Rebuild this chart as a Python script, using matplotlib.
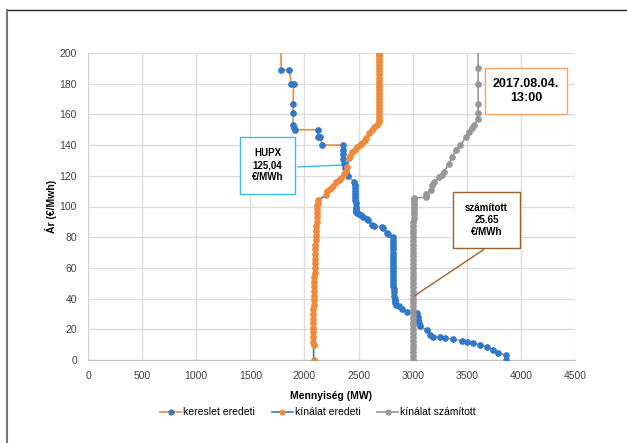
import matplotlib
matplotlib.use("Agg")
import matplotlib.pyplot as plt
from matplotlib.patches import Rectangle
from matplotlib.lines import Line2D

plt.rcParams["font.family"] = ["Liberation Sans", "DejaVu Sans"]

# kereslet eredeti (demand) - MW, EUR/MWh
kereslet_mw = [1784, 1784, 1858, 1880, 1900, 1895, 1895, 1895, 1900, 1912, 2126, 2126, 2145, 2165,
               2357, 2357, 2357, 2360, 2365, 2372, 2382, 2400, 2462, 2466, 2468, 2470, 2470, 2470,
               2471, 2472, 2474, 2475, 2478, 2480, 2482, 2500, 2520, 2545, 2575, 2590, 2625, 2640,
               2717, 2730, 2763, 2775, 2815, 2818, 2820, 2820, 2820, 2820, 2820, 2820, 2820, 2820,
               2820, 2820, 2820, 2820, 2820, 2820, 2822, 2825, 2830, 2832, 2835, 2838, 2840, 2845,
               2870, 2900, 2950, 3040, 3045, 3050, 3055, 3070, 3130, 3160, 3190, 3250, 3300, 3375,
               3455, 3500, 3560, 3620, 3685, 3745, 3790, 3860, 3860]
kereslet_ar = [250, 189, 189, 180, 180, 167, 161, 153, 151, 150, 150, 145, 145, 140,
               140, 137, 134, 131, 128, 125, 122, 120, 116, 114, 112, 110, 108, 106,
               104, 102, 100, 98.5, 97, 96.5, 96, 95, 94.5, 93, 92, 91, 88, 87.5,
               86.7, 86, 82.7, 82, 80, 78, 76, 74, 72, 70, 68, 66, 64, 62,
               60, 58, 56, 54, 52, 50, 48, 46, 44, 42, 40, 38.5, 37, 36,
               35, 33, 31, 30.5, 28, 26, 24, 22, 19.5, 16.3, 15.2, 15, 14.3, 13.7,
               12.4, 11.7, 11, 9.8, 8.5, 6.5, 4.5, 3.3, 0]

# kínálat eredeti (original supply)
kinalat_mw = [2085, 2085, 2082, 2080, 2080, 2080, 2081, 2082, 2082, 2083, 2085, 2086, 2088, 2089,
              2090, 2091, 2092, 2093, 2095, 2096, 2098, 2099, 2100, 2102, 2105, 2106, 2108, 2110,
              2112, 2113, 2115, 2118, 2120, 2122, 2125, 2200, 2210, 2240, 2265, 2290, 2320, 2340,
              2370, 2385, 2395, 2410, 2425, 2440, 2465, 2490, 2515, 2535, 2555, 2570, 2600, 2625,
              2645, 2670, 2685, 2688, 2690, 2690, 2690, 2690, 2690, 2690, 2690, 2690, 2690, 2690,
              2690, 2690, 2690, 2690, 2690, 2690, 2690, 2690, 2690, 2690, 2690, 2690, 2690]
kinalat_ar = [0, 10, 12, 15, 18, 21, 24, 27, 30, 33, 36, 39, 42, 45,
              48, 51, 54, 57, 60, 63, 66, 69, 72, 75, 78, 81, 84, 87,
              90, 93, 96, 98.5, 101, 102.5, 104, 107.5, 110, 111.5, 113.5, 116, 117, 118.5,
              121, 123, 126, 131.5, 133, 135.5, 137, 138.5, 140, 141.5, 143, 144.5, 148, 150,
              151.5, 153, 155, 156.5, 158, 160, 162, 164, 166, 168, 170, 172, 174, 176,
              178, 180, 182, 184, 186, 188, 190, 192, 194, 196, 198, 199, 200]

# kínálat számított (computed supply)
szamitott_mw = [3000, 3000, 3000, 3000, 3000, 3000, 3000, 3000, 3000, 3000, 3000, 3000, 3000, 3000,
                3000, 3000, 3000, 3000, 3000, 3000, 3000, 3000, 3000, 3000, 3000, 3000, 3000, 3000,
                3000, 3000, 3000, 3000, 3000, 3002, 3003, 3005, 3007, 3008, 3010, 3011, 3012, 3013,
                3014, 3015, 3015, 3015, 3125, 3125, 3170, 3180, 3200, 3245, 3270, 3290, 3335, 3365,
                3400, 3440, 3490, 3520, 3545, 3570, 3600, 3605, 3605, 3605, 3605, 3605]
szamitott_ar = [0, 2.5, 5, 7.5, 10, 12.5, 15, 17.5, 20, 22.5, 25, 27.5, 30, 32.5,
                35, 37.5, 40, 42.5, 45, 47.5, 50, 52.5, 55, 57.5, 60, 62.5, 65, 67.5,
                70, 72.5, 75, 77.5, 80, 82.5, 85, 87.5, 90, 92.5, 95, 97, 99, 101,
                102.5, 104, 105, 105.5, 106, 108, 111, 114, 116, 119, 120.5, 122.5, 128, 132,
                137, 140, 145, 148.5, 151, 153, 157, 161, 167, 180, 190, 250]

hupx_price = 125.04
szamitott_price_pt = 41

BLUE = "#2f78cc"
ORANGE = "#f08a3a"
GRAY = "#979797"
W, H = 627, 443

fig = plt.figure(figsize=(W / 100, H / 100), dpi=100)
ax = fig.add_axes([88 / W, 1 - 360 / H, (575 - 88) / W, (360 - 53) / H])

ax.plot(kereslet_mw, kereslet_ar, color=ORANGE, lw=1.2, marker="o", ms=3.8,
        mfc=BLUE, mec=BLUE, label="kereslet eredeti", zorder=3)
ax.plot(kinalat_mw, kinalat_ar, color=BLUE, lw=1.2, marker="o", ms=3.8,
        mfc=ORANGE, mec=ORANGE, label="kínálat eredeti", zorder=4)
ax.plot(szamitott_mw, szamitott_ar, color=GRAY, lw=1.2, marker="o", ms=3.8,
        mfc=GRAY, mec=GRAY, label="kínálat számított", zorder=5)

ax.set_xlim(0, 4500)
ax.set_ylim(0, 200)
ax.set_xticks(range(0, 4501, 500))
ax.set_yticks(range(0, 201, 20))
ax.grid(True, color="#dcdcdc", lw=1)
ax.set_axisbelow(True)
for s in ["top", "right"]:
    ax.spines[s].set_visible(False)
ax.spines["left"].set_color("#d0d0d0")
ax.spines["bottom"].set_color("#c0c0c0")
ax.tick_params(length=0, labelsize=7.5, labelcolor="#404040", pad=8)
ax.set_xlabel("Mennyiség (MW)", fontsize=7.5, fontweight="bold", labelpad=7)
ax.set_ylabel("Ár (€/Mwh)", fontsize=7.5, fontweight="bold", labelpad=2)

leg = ax.legend(loc="upper center", ncol=3, frameon=False, fontsize=7.5, handlelength=2.0,
                handletextpad=0.2, columnspacing=1.6, borderaxespad=0, markerscale=0.9)
leg.set_bbox_to_anchor((318 / W, 1 - 403 / H), transform=fig.transFigure)


def box(x0, y0, x1, y1, color, text, size):
    fig.add_artist(Rectangle((x0 / W, 1 - y1 / H), (x1 - x0) / W, (y1 - y0) / H,
                             transform=fig.transFigure, facecolor="white",
                             edgecolor=color, lw=1, zorder=10))
    fig.text((x0 + x1) / 2 / W, 1 - (y0 + y1) / 2 / H, text, ha="center", va="center",
             fontsize=size, fontweight="bold", linespacing=1.25, zorder=11)


# callouts
ax.annotate("", xy=(2360, hupx_price + 2), xycoords="data",
            xytext=(295 / W, 1 - 167 / H), textcoords="figure fraction",
            arrowprops=dict(arrowstyle="-", color="#3cbde6", lw=1), zorder=9)
box(240, 137, 295, 194, "#3cbde6", "HUPX\n125,04\n€/MWh", 7)

ax.annotate("", xy=(3000, szamitott_price_pt), xycoords="data",
            xytext=(486 / W, 1 - 248 / H), textcoords="figure fraction",
            arrowprops=dict(arrowstyle="-", color="#a0602a", lw=1), zorder=9)
box(453, 192, 520, 248, "#a0602a", "számított\n25.65\n€/MWh", 7)

box(485, 68, 567, 114, "#f5a463", "2017.08.04.\n13:00", 9)

# outer frame (cut at right/bottom)
fig.add_artist(Line2D([7 / W, 1], [1 - 10 / H, 1 - 10 / H], transform=fig.transFigure,
                      color="#222222", lw=1))
fig.add_artist(Line2D([7 / W, 7 / W], [0, 1 - 10 / H], transform=fig.transFigure,
                      color="#777777", lw=1.5))

fig.savefig("out.png", dpi=100)
